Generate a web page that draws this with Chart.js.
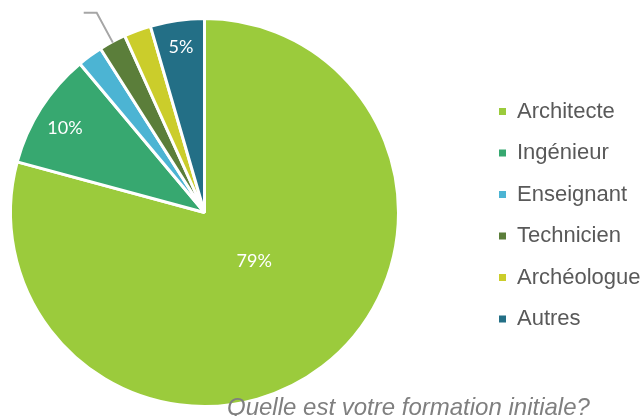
<!DOCTYPE html>
<html>
<head>
<meta charset="utf-8">
<script src="https://cdn.jsdelivr.net/npm/chart.js@4.4.0/dist/chart.umd.min.js"></script>
<style>
  html, body { margin: 0; padding: 0; background: #fff; overflow: hidden; }
  #wrap { width: 642px; height: 416px; position: relative; }
</style>
</head>
<body>
<div id="wrap"><canvas id="formationChart" width="642" height="416"></canvas></div>
<script>
const categories = ['Architecte', 'Ingénieur', 'Enseignant', 'Technicien', 'Archéologue', 'Autres'];
const shares = [79.2, 9.7, 2.1, 2.25, 2.25, 4.5];
const sliceColors = ['#9BCB3C', '#37A870', '#4CB4D3', '#5B7E3A', '#CBCD2B', '#236F86'];
const chartTitle = 'Quelle est votre formation initiale?';

// which slices get a percentage printed inside, and how far out
const labelPlacement = {
    0: { radius: 0.36, shift: -8 },
    1: { radius: 0.84, shift: -1.5 },
    5: { radius: 0.86, shift: 0 }
};

const sliceLabels = {
    id: 'sliceLabels',
    afterDatasetsDraw(chart) {
        const ctx = chart.ctx;
        const meta = chart.getDatasetMeta(0);
        const values = chart.data.datasets[0].data;
        const total = values.reduce((a, b) => a + b, 0);
        ctx.save();
        ctx.font = '18px Lato';
        ctx.fillStyle = '#ffffff';
        ctx.textAlign = 'center';
        ctx.textBaseline = 'middle';
        meta.data.forEach((arc, i) => {
            const place = labelPlacement[i];
            if (!place) return;
            const mid = (arc.startAngle + arc.endAngle) / 2 + place.shift * Math.PI / 180;
            const r = arc.outerRadius * place.radius;
            const txt = Math.round(values[i] / total * 100) + '%';
            ctx.fillText(txt, arc.x + Math.cos(mid) * r, arc.y + Math.sin(mid) * r);
        });

        // leader line of the Technicien label (label itself sits outside the picture)
        const tech = meta.data[3];
        const a = (tech.startAngle + tech.endAngle) / 2;
        const r0 = tech.outerRadius - 1;
        const r1 = tech.outerRadius + 33;
        const x1 = tech.x + Math.cos(a) * r1;
        const y1 = tech.y + Math.sin(a) * r1;
        ctx.strokeStyle = '#A6A6A6';
        ctx.lineWidth = 2;
        ctx.beginPath();
        ctx.moveTo(tech.x + Math.cos(a) * r0, tech.y + Math.sin(a) * r0);
        ctx.lineTo(x1, y1);
        ctx.lineTo(x1 - 13, y1);
        ctx.stroke();
        ctx.restore();
    }
};

const sideLegend = {
    id: 'sideLegend',
    afterDraw(chart) {
        const ctx = chart.ctx;
        const colors = chart.data.datasets[0].backgroundColor;
        ctx.save();
        ctx.font = '22px "Liberation Sans", Arial, sans-serif';
        ctx.textBaseline = 'middle';
        ctx.textAlign = 'left';
        chart.data.labels.forEach((label, i) => {
            const y = 111.5 + i * 41.5;
            ctx.fillStyle = colors[i];
            ctx.fillRect(499, y - 3.5, 7, 7);
            ctx.fillStyle = '#595959';
            ctx.fillText(label, 517, y);
        });

        ctx.font = 'italic 24px "Liberation Sans", Arial, sans-serif';
        ctx.fillStyle = '#7F7F7F';
        ctx.textBaseline = 'alphabetic';
        ctx.fillText(chartTitle, 227, 415);
        ctx.restore();
    }
};

function initializeFormationChart() {
    const ctx = document.getElementById('formationChart').getContext('2d');

    new Chart(ctx, {
        type: 'pie',
        data: {
            labels: categories,
            datasets: [{
                data: shares,
                backgroundColor: sliceColors,
                borderColor: '#ffffff',
                borderWidth: 3
            }]
        },
        options: {
            responsive: false,
            animation: false,
            devicePixelRatio: 1,
            layout: {
                padding: { left: 9, top: 17, right: 242, bottom: 8 }
            },
            plugins: {
                legend: { display: false },
                tooltip: { enabled: false }
            }
        },
        plugins: [sliceLabels, sideLegend]
    });
}

document.addEventListener('DOMContentLoaded', initializeFormationChart);
</script>
</body>
</html>
